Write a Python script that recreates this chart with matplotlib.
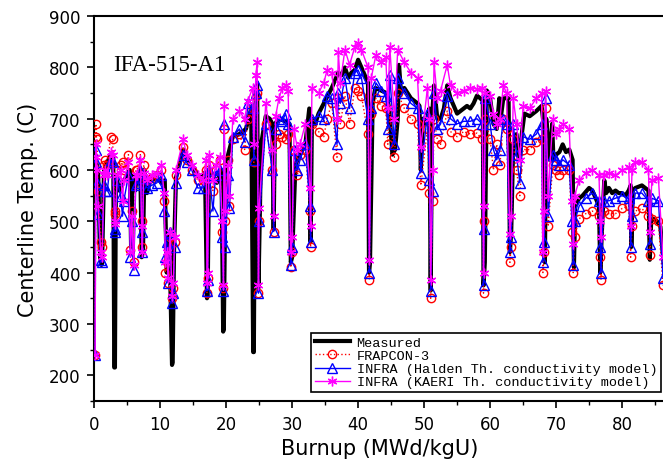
import matplotlib
matplotlib.use("Agg")
import matplotlib.pyplot as plt

# measured centreline temperature
meas_burnup = [0.3, 0.6, 0.9, 1.1, 1.2, 1.5, 2.0, 2.5, 2.9, 3.05, 3.15, 3.3, 3.8, 4.3,
               5.0, 5.4, 5.6, 5.8, 6.2, 6.5, 7.0, 7.2, 7.4, 7.6, 8.0, 8.5, 9.5, 10.2,
               10.7, 11.0, 11.4, 11.8, 11.9, 12.1, 12.4, 13.0, 13.5, 14.0, 15.0, 16.0,
               16.8, 17.1, 17.2, 17.4, 18.0, 18.6, 19.3, 19.55, 19.65, 19.9, 20.3, 21.0,
               22.0, 23.0, 23.8, 24.1, 24.2, 24.4, 24.7, 24.9, 25.3, 26.0, 26.6, 27.0,
               27.2, 27.4, 28.0, 29.0, 29.6, 29.8, 30.0, 30.5, 31.0, 32.0, 32.6, 32.8,
               33.0, 33.5, 34.0, 35.0, 36.0, 37.0, 37.5, 38.0, 38.5, 39.0, 39.5, 40.0,
               40.5, 41.0, 41.5, 41.65, 41.8, 42.2, 42.6, 43.5, 44.3, 44.7, 45.2, 45.6,
               46.0, 46.2, 46.5, 47.0, 47.5, 48.0, 49.0, 49.3, 49.5, 49.8, 50.3, 50.8,
               51.0, 51.2, 51.5, 52.0, 52.5, 53.0, 53.5, 54.0, 55.0, 56.0, 56.5, 57.0,
               57.5, 58.0, 58.5, 58.9, 59.0, 59.2, 59.5, 60.0, 60.5, 61.0, 61.4, 61.6,
               62.0, 62.8, 63.0, 63.2, 63.5, 64.0, 64.5, 64.8, 65.2, 66.0, 67.0, 67.8,
               68.1, 68.3, 68.5, 69.0, 69.4, 69.6, 70.0, 70.5, 71.0, 71.5, 72.0, 72.5,
               72.7, 72.9, 73.5, 74.0, 75.0, 75.5, 76.0, 76.5, 76.7, 76.9, 77.3, 77.6,
               78.0, 78.5, 79.0, 79.5, 80.0, 80.5, 81.0, 81.3, 81.4, 81.6, 82.0, 83.0,
               83.5, 84.0, 84.2, 84.4, 84.7, 85.3, 85.8, 86.3]
meas_temp = [615, 600, 430, 415, 420, 600, 615, 630, 625, 215, 215, 590, 560, 575,
             590, 600, 450, 590, 560, 590, 600, 430, 440, 600, 555, 580, 585, 575,
             580, 400, 470, 220, 225, 440, 585, 615, 640, 625, 605, 585,
             595, 350, 355, 600, 590, 575, 600, 285, 290, 580, 630, 665,
             670, 680, 720, 245, 245, 720, 770, 370, 650, 705, 700, 690,
             485, 690, 700, 695, 690, 420, 430, 610, 625, 650, 720, 460,
             700, 690, 710, 735, 760, 790, 785, 800, 780, 790, 795, 815,
             800, 785, 770, 400, 420, 730, 760, 755, 750, 720, 630, 640,
             700, 805, 750, 760, 750, 740, 730, 725, 600, 700, 690, 720,
             365, 700, 765, 700, 700, 720, 765, 740, 710, 720, 725, 720,
             730, 745, 740, 735, 375, 420, 755, 740, 690, 680, 740, 700,
             740, 740, 440, 480, 650, 670, 620, 670, 710, 705, 715, 725,
             690, 420, 700, 620, 690, 620, 630, 635, 650, 635, 640, 620,
             410, 530, 545, 550, 565, 560, 545, 530, 400, 470, 580, 555,
             565, 555, 560, 555, 555, 550, 560, 570, 450, 560, 565, 570,
             565, 560, 425, 500, 505, 500, 490, 420]

# code predictions share the same burnup steps
pred_burnup = [0.15, 0.25, 0.35, 0.45, 0.6, 1.0, 1.2, 1.5, 1.7, 2.0, 2.5, 2.8, 3.1, 3.2,
               3.5, 4.0, 4.3, 4.5, 5.2, 5.5, 5.7, 6.0, 6.3, 6.5, 7.0, 7.2, 7.3, 7.5,
               8.0, 8.7, 9.5, 10.2, 10.6, 10.8, 11.0, 11.2, 11.5, 11.8, 12.0, 12.2,
               12.4, 13.5, 14.0, 14.8, 15.7, 16.5, 17.0, 17.1, 17.2, 17.4, 18.0, 18.4,
               19.0, 19.4, 19.6, 19.7, 19.9, 20.3, 20.5, 21.0, 22.0, 22.8, 23.3, 24.0,
               24.2, 24.5, 24.7, 24.9, 25.0, 26.0, 27.0, 27.2, 27.5, 28.0, 28.5, 29.0,
               29.4, 29.8, 30.0, 30.3, 30.8, 31.2, 32.0, 32.7, 32.8, 33.0, 34.0, 34.8,
               35.3, 36.0, 36.8, 37.0, 37.3, 38.0, 38.7, 39.5, 40.0, 40.5, 41.5, 41.7,
               42.0, 42.7, 43.5, 44.2, 44.5, 44.8, 45.5, 46.0, 47.0, 48.0, 49.0, 49.5,
               50.5, 50.8, 51.0, 51.3, 51.5, 52.0, 52.5, 53.5, 54.0, 55.0, 56.0, 57.0,
               58.0, 58.8, 59.0, 59.1, 59.3, 60.0, 60.5, 61.0, 61.5, 62.0, 62.5, 63.0,
               63.2, 63.5, 64.0, 64.5, 65.0, 66.0, 67.0, 67.8, 68.0, 68.2, 68.4, 68.8,
               69.5, 70.0, 70.5, 71.0, 72.0, 72.4, 72.6, 72.8, 73.5, 74.5, 75.5, 76.5,
               76.7, 76.8, 77.2, 78.0, 79.0, 80.0, 81.0, 81.3, 81.5, 82.0, 83.0, 84.0,
               84.2, 84.5, 85.5, 86.2]
frapcon_temp = [240, 690, 665, 660, 560, 460, 450, 610, 620, 610, 665, 660, 520, 515,
                600, 610, 615, 600, 630, 445, 520, 420, 600, 600, 630, 500, 450, 610,
                580, 585, 590, 600, 540, 400, 420, 380, 470, 350, 370, 460,
                590, 645, 620, 600, 580, 580, 600, 360, 390, 610, 560, 600,
                620, 480, 370, 680, 500, 620, 530, 660, 670, 640, 700, 720,
                615, 745, 750, 360, 500, 690, 600, 480, 650, 670, 665, 660,
                670, 410, 440, 640, 590, 630, 640, 520, 450, 690, 675, 665,
                700, 730, 625, 740, 690, 745, 690, 760, 755, 745, 670, 385,
                710, 740, 725, 720, 650, 710, 625, 750, 720, 700, 690, 570,
                680, 555, 350, 540, 700, 660, 650, 715, 675, 665, 675, 670,
                672, 660, 360, 500, 700, 660, 600, 650, 610, 700, 680, 420,
                450, 660, 600, 550, 640, 640, 655, 660, 400, 440, 720, 490,
                610, 600, 590, 600, 600, 480, 400, 470, 505, 515, 520, 510,
                430, 385, 520, 515, 515, 525, 530, 430, 490, 520, 525, 510,
                435, 505, 500, 375]
halden_temp = [240, 640, 615, 575, 515, 425, 420, 570, 560, 560, 620, 615, 485, 480,
               580, 550, 510, 540, 590, 430, 500, 405, 570, 575, 600, 480, 440, 585,
               565, 570, 575, 590, 520, 430, 460, 380, 480, 340, 360, 450,
               575, 630, 615, 600, 565, 565, 590, 365, 385, 600, 520, 590,
               600, 470, 365, 690, 450, 590, 525, 665, 680, 655, 730, 720,
               620, 750, 765, 360, 500, 690, 600, 480, 680, 700, 695, 710,
               690, 415, 450, 640, 600, 620, 650, 530, 460, 700, 705, 700,
               745, 740, 650, 750, 730, 780, 720, 790, 795, 780, 700, 400,
               720, 770, 755, 745, 680, 785, 650, 780, 750, 730, 720, 595,
               710, 580, 365, 560, 750, 680, 690, 745, 700, 690, 695, 695,
               700, 690, 375, 485, 740, 690, 640, 620, 640, 700, 690, 440,
               470, 690, 630, 575, 665, 660, 670, 690, 420, 460, 740, 510,
               630, 620, 610, 620, 610, 500, 415, 500, 530, 545, 555, 540,
               450, 400, 540, 540, 545, 550, 545, 450, 510, 555, 555, 540,
               455, 545, 540, 390]
kaeri_temp = [240, 650, 625, 600, 530, 440, 430, 590, 600, 590, 635, 630, 500, 495,
              590, 600, 540, 580, 615, 440, 510, 415, 590, 590, 620, 490, 440, 595,
              580, 590, 595, 610, 555, 420, 440, 390, 480, 355, 380, 470,
              600, 660, 630, 610, 590, 580, 620, 380, 400, 630, 580, 610,
              625, 500, 375, 725, 520, 610, 550, 700, 715, 700, 735, 760,
              650, 785, 810, 375, 525, 730, 640, 510, 705, 740, 760, 765,
              755, 440, 470, 680, 640, 650, 690, 565, 490, 760, 750, 770,
              795, 790, 700, 830, 770, 835, 805, 840, 848, 835, 800, 425,
              780, 825, 810, 820, 720, 840, 700, 835, 810, 790, 780, 645,
              760, 700, 385, 600, 810, 740, 755, 805, 765, 750, 755, 760,
              758, 760, 400, 530, 750, 745, 710, 690, 700, 765, 750, 475,
              510, 740, 690, 620, 725, 720, 740, 750, 440, 520, 755, 550,
              700, 670, 680, 690, 680, 540, 455, 550, 580, 595, 600, 590,
              500, 470, 590, 595, 590, 600, 605, 490, 600, 615, 615, 600,
              480, 580, 585, 430]


def main():
    fig = plt.figure(figsize=(6.63, 4.64), dpi=100)
    ax = fig.add_axes([0.142, 0.134, 0.86, 0.829])

    ax.plot(meas_burnup, meas_temp, "-", color="black", linewidth=3,
            label="Measured", zorder=2)
    ax.plot(pred_burnup, frapcon_temp, ":", color="red", linewidth=1,
            marker="o", markersize=6, markerfacecolor="none",
            markeredgecolor="red", label="FRAPCON-3", zorder=3)
    ax.plot(pred_burnup, halden_temp, "-", color="blue", linewidth=1,
            marker="^", markersize=7, markerfacecolor="none",
            markeredgecolor="blue",
            label="INFRA (Halden Th. conductivity model)", zorder=4)
    ax.plot(pred_burnup, kaeri_temp, "-", color="magenta", linewidth=1,
            marker=(6, 2, 0), markersize=7, markeredgecolor="magenta",
            label="INFRA (KAERI Th. conductivity model)", zorder=5)

    ax.set_xlim(0, 86.4)
    ax.set_ylim(150, 900)
    ax.set_xticks(range(0, 90, 10))
    ax.set_xticks(range(5, 90, 10), minor=True)
    ax.set_yticks(range(200, 901, 100))
    ax.set_yticks(range(150, 900, 100), minor=True)
    ax.tick_params(direction="out", length=5, width=1.2, labelsize=12, pad=5)
    ax.tick_params(which="minor", direction="out", length=3, width=1)
    for side in ("left", "bottom", "top"):
        ax.spines[side].set_linewidth(1.5)
    ax.spines["right"].set_visible(False)

    ax.set_xlabel("Burnup (MWd/kgU)", fontsize=15, labelpad=4)
    ax.set_ylabel("Centerline Temp. (C)", fontsize=15, labelpad=8)

    ax.text(2.9, 806, "IFA-515-A1", family="Liberation Serif", fontsize=16.5,
            va="center", ha="left")

    leg = ax.legend(loc="lower left", bbox_to_anchor=(0.38, 0.022),
                    prop={"family": "Liberation Mono", "size": 9.7},
                    fancybox=False, edgecolor="black", framealpha=1,
                    handlelength=2.6, borderpad=0.3, labelspacing=0.05,
                    borderaxespad=0, handletextpad=0.5)
    leg.get_frame().set_linewidth(1.2)

    fig.savefig("out.png", dpi=100)
    plt.close(fig)


if __name__ == "__main__":
    main()
